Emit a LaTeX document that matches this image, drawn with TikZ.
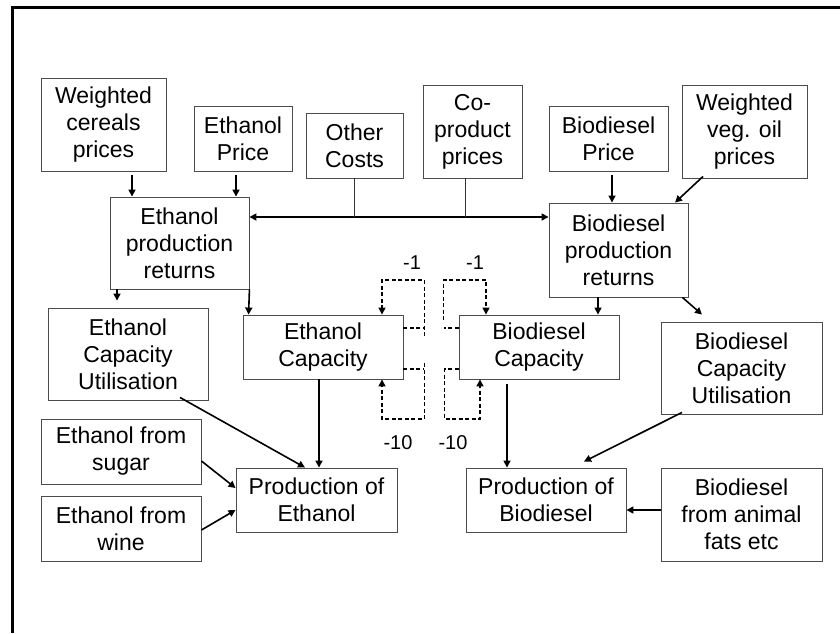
\documentclass[tikz,border=0pt]{standalone}
\usepackage{fontspec}
\setmainfont{Liberation Sans}
\usetikzlibrary{arrows.meta}
\tikzset{
  box/.style={draw=black!70, line width=0.9pt, align=center, inner sep=0pt,
    font=\fontsize{23}{27}\selectfont},
  arr/.style={line width=1.6pt, -{Triangle[length=7pt,width=7pt]}},
  darr/.style={line width=1.6pt, {Triangle[length=7pt,width=7pt]}-{Triangle[length=7pt,width=7pt]}},
  stub/.style={line width=0.8pt, draw=black!80},
  dl/.style={line width=1.5pt, dash pattern=on 4pt off 2.5pt},
  dla/.style={dl, -{Triangle[length=7pt,width=7pt]}},
  lag/.style={font=\fontsize{20}{24}\selectfont, inner sep=0pt}
}
\begin{document}
\begin{tikzpicture}[x=1pt,y=-1pt]
\useasboundingbox (0,0) rectangle (840,633);
\draw[line width=3pt] (840,7) -- (12,7) -- (12,633);

\node[box, minimum width=125pt, minimum height=93pt] (cereals) at (103.5,124.5) {Weighted\\cereals\\prices};
\node[box, minimum width=98pt, minimum height=65pt] (ethprice) at (243,138.5) {Ethanol\\Price};
\node[box, minimum width=97pt, minimum height=65pt] (other) at (354.5,145.5) {Other\\Costs};
\node[box, minimum width=99pt, minimum height=93pt] (coprod) at (472.5,131.5) {Co-\\product\\prices};
\node[box, minimum width=119pt, minimum height=65pt] (bioprice) at (608.5,138.5) {Biodiesel\\Price};
\node[box, minimum width=125pt, minimum height=93pt] (vegoil) at (744.5,131.5) {Weighted\\veg. oil\\prices};
\node[box, minimum width=139pt, minimum height=92pt] (ethret) at (179.5,243) {Ethanol\\production\\returns};
\node[box, minimum width=139pt, minimum height=94pt] (bioret) at (618.5,250) {Biodiesel\\production\\returns};
\node[box, minimum width=160pt, minimum height=92pt] (ethutil) at (128,354) {Ethanol\\Capacity\\Utilisation};
\node[box, minimum width=160pt, minimum height=64pt] (ethcap) at (323,347) {Ethanol\\Capacity};
\node[box, minimum width=160pt, minimum height=64pt] (biocap) at (539,347) {Biodiesel\\Capacity};
\node[box, minimum width=161pt, minimum height=92pt] (bioutil) at (741.5,368) {Biodiesel\\Capacity\\Utilisation};
\node[box, minimum width=160pt, minimum height=65pt] (sugar) at (121,451.5) {Ethanol from\\sugar};
\node[box, minimum width=160pt, minimum height=65pt] (wine) at (121,528.5) {Ethanol from\\wine};
\node[box, minimum width=161pt, minimum height=64pt] (prodeth) at (316.5,500) {Production of\\Ethanol};
\node[box, minimum width=160pt, minimum height=64pt] (prodbio) at (546,500) {Production of\\Biodiesel};
\node[box, minimum width=161pt, minimum height=93pt] (animal) at (741.5,514.5) {Biodiesel\\from animal\\fats etc};

% top inputs
\draw[arr] ([xshift=28.5pt,yshift=-4pt]cereals.south) -- ([xshift=-47.5pt]ethret.north);
\draw[arr] ([xshift=-7pt,yshift=-4pt]ethprice.south) -- ([xshift=56.5pt]ethret.north);
\draw[arr] ([xshift=3.5pt,yshift=-4pt]bioprice.south) -- ([xshift=-6.5pt]bioret.north);
\draw[arr] ([xshift=-41.5pt,yshift=2pt]vegoil.south) -- ([xshift=56.5pt]bioret.north);

% shared costs line
\coordinate (hl) at ([yshift=26pt]ethret.east);
\draw[darr] (hl) -- ([yshift=33pt]bioret.west);
\draw[stub] (other.south) -- (other.south |- hl);
\draw[stub] ([xshift=-7.5pt]coprod.south) -- ([xshift=-7.5pt]coprod.south |- hl);

% returns to capacity / utilisation
\draw[arr] ([xshift=-62.5pt]ethret.south) -- ([xshift=-11pt,yshift=7pt]ethutil.north);
\draw[arr] (ethret.south east) -- ([xshift=6pt]ethcap.north west);
\draw[arr] ([xshift=-20.5pt]bioret.south) -- ([xshift=59pt]biocap.north);
\draw[arr] ([xshift=-6pt]bioret.south east) -- ([xshift=-39.5pt,yshift=7pt]bioutil.north);

% to production
\draw[arr] ([xshift=-4pt]ethcap.south) -- ([xshift=2.5pt]prodeth.north);
\draw[arr] ([xshift=52pt,yshift=3pt]ethutil.south) -- ([xshift=-11.5pt]prodeth.north);
\draw[arr] ([yshift=-9.5pt]sugar.east) -- ([yshift=12pt]prodeth.west);
\draw[arr] ([yshift=-1.5pt]wine.east) -- ([yshift=-10pt]prodeth.west);
\draw[arr] ([xshift=-32pt,yshift=-5pt]biocap.south) -- ([xshift=-39pt]prodbio.north);
\draw[arr] ([xshift=-59.5pt,yshift=2pt]bioutil.south) -- ([xshift=38pt,yshift=6pt]prodbio.north);
\draw[arr] ([yshift=4.5pt]animal.west) -- ([yshift=-10pt]prodbio.east);

% lag loops
\draw[dl] ([yshift=19pt]ethcap.east) -- ++(21,0);
\draw[dla] ([xshift=21pt,yshift=11pt]ethcap.east) -- ++(0,-56) -| ([xshift=59pt]ethcap.north);
\draw[dl] ([yshift=-22pt]ethcap.east) -- ++(21,0);
\draw[dla] ([xshift=21pt,yshift=-16pt]ethcap.east) -- ++(0,56) -| ([xshift=59pt]ethcap.south);
\draw[dl] ([yshift=19pt]biocap.west) -- ++(-15,0);
\draw[dla] ([xshift=-15pt,yshift=27pt]biocap.west) -- ++(0,-40) -| ([xshift=-53pt]biocap.north);
\draw[dla] ([yshift=-22pt]biocap.west) -- ++(-14,0) -- ++(0,50) -| ([xshift=-59pt]biocap.south);

\node[lag] (l1) at (412,263) {-1};
\node[lag] (l2) at (475,263) {-1};
\node[lag] (l3) at (398,443) {-10};
\node[lag] (l4) at (453,443) {-10};
\end{tikzpicture}
\end{document}
